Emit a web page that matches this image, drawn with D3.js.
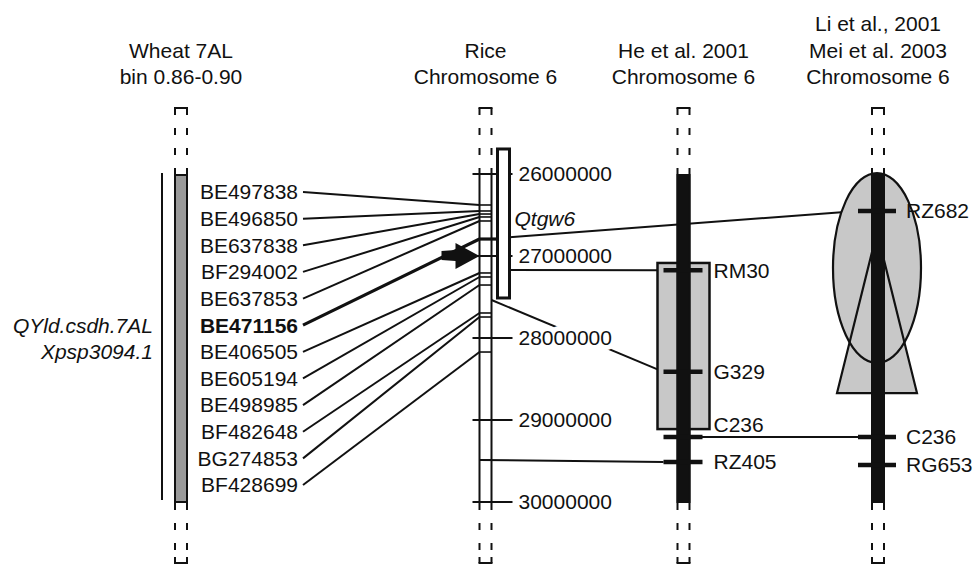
<!DOCTYPE html>
<meta charset="utf-8">
<style>
  body { margin: 0; background: #fff; }
  text { font-family: "Liberation Sans", Arial, sans-serif; fill: #111; }
</style>
<body></body>
<script src="https://cdn.jsdelivr.net/npm/d3@7"></script>
<script>
  const width = 974
  const height = 569

  // wheat 7AL bin markers (top to bottom) and their rice chromosome 6 hits (bp)
  const wheatMarkers = ["BE497838", "BE496850", "BE637838", "BF294002", "BE637853", "BE471156",
    "BE406505", "BE605194", "BE498985", "BF482648", "BG274853", "BF428699"]
  const riceHits = [26378000, 26451000, 26488000, 26524000, 26573000, 26793000,
    27207000, 27256000, 27354000, 27695000, 27744000, 28171000]
  const boldMarker = "BE471156"

  const riceTicks = [26000000, 27000000, 28000000, 29000000, 30000000]
  const qtgw6 = [25695000, 27512000]

  // He et al. 2001 map, relative position along drawn segment (%)
  const heMarkers = ["RM30", "G329", "C236", "RZ405"]
  const hePos = [29.1, 60.2, 80.1, 87.8]
  const heQtl = [26.9, 77.7]

  // Li et al. 2001 / Mei et al. 2003 map
  const liMarkers = ["RZ682", "C236", "RG653"]
  const liPos = [11.0, 80.1, 88.7]
  const liEllipse = [-0.6, 57.5]
  const liTriangle = [17.4, 66.7]

  // links between maps
  const riceToHe = [
    { from: 27170000, to: "RM30" },
    { from: 27537000, to: "G329" },
    { from: 29488000, to: "RZ405" }
  ]
  const riceToLi = [{ from: 26770000, to: "RZ682" }]
  const heToLi = [{ from: "C236", to: "C236" }]

  const titles = {
    wheat: ["Wheat 7AL", "bin 0.86-0.90"],
    rice: ["Rice", "Chromosome 6"],
    he: ["He et al. 2001", "Chromosome 6"],
    li: ["Li et al., 2001", "Mei et al. 2003", "Chromosome 6"]
  }

  const x = d3.scaleOrdinal()
    .domain(["wheat", "rice", "he", "li"])
    .range([181, 485.5, 683.5, 878])

  const bodyTop = 175, bodyBottom = 502
  const yRice = d3.scaleLinear().domain([26000000, 30000000]).range([174, 502])
  const yRel = d3.scaleLinear().domain([0, 100]).range([bodyTop, bodyBottom])
  const yWheat = d3.scalePoint().domain(wheatMarkers).range([192, 485])

  const halfW = 6

  const svg = d3.select("body").append("svg")
    .attr("width", width)
    .attr("height", height)

  // titles
  Object.keys(titles).forEach(k => {
    const lines = titles[k]
    svg.append("g").selectAll("text")
      .data(lines)
      .join("text")
      .attr("x", x(k))
      .attr("y", (d, i) => 84 - (lines.length - 1 - i) * 26.5)
      .attr("text-anchor", "middle")
      .attr("font-size", 21)
      .text(d => d)
  })

  // chromosome outlines with dashed ends
  function drawChromosome(key, fill) {
    const cx = x(key)
    const g = svg.append("g")
    ;[-halfW, halfW].forEach(dx => {
      g.append("line").attr("x1", cx + dx).attr("x2", cx + dx)
        .attr("y1", 108).attr("y2", 168)
        .attr("stroke", "#111").attr("stroke-width", 2)
        .attr("stroke-dasharray", "7,13")
      g.append("line").attr("x1", cx + dx).attr("x2", cx + dx)
        .attr("y1", 168).attr("y2", 510)
        .attr("stroke", "#111").attr("stroke-width", 2)
      g.append("line").attr("x1", cx + dx).attr("x2", cx + dx)
        .attr("y1", 523).attr("y2", 563)
        .attr("stroke", "#111").attr("stroke-width", 2)
        .attr("stroke-dasharray", "7,13")
      g.append("line").attr("x1", cx + dx).attr("x2", cx + dx)
        .attr("y1", 557).attr("y2", 563)
        .attr("stroke", "#111").attr("stroke-width", 2)
    })
    g.append("line").attr("x1", cx - halfW - 1).attr("x2", cx + halfW + 1)
      .attr("y1", 108).attr("y2", 108).attr("stroke", "#111").attr("stroke-width", 2)
    g.append("line").attr("x1", cx - halfW - 1).attr("x2", cx + halfW + 1)
      .attr("y1", 563).attr("y2", 563).attr("stroke", "#111").attr("stroke-width", 2)
    if (fill) {
      g.append("rect")
        .attr("x", cx - halfW).attr("y", bodyTop)
        .attr("width", halfW * 2).attr("height", bodyBottom - bodyTop)
        .attr("fill", fill)
        .attr("stroke", "#111").attr("stroke-width", 2)
    }
    return g
  }

  // ---- links (drawn first, below the maps) ----
  const links = svg.append("g").attr("stroke", "#111").attr("fill", "none")

  wheatMarkers.forEach((m, i) => {
    links.append("line")
      .attr("x1", 303).attr("y1", yWheat(m))
      .attr("x2", x("rice") - halfW).attr("y2", yRice(riceHits[i]))
      .attr("stroke-width", m === boldMarker ? 3.2 : 2)
  })
  // bold marker continues to the QTL box
  links.append("line")
    .attr("x1", x("rice") - halfW).attr("x2", x("rice") + 12)
    .attr("y1", yRice(riceHits[5])).attr("y2", yRice(riceHits[5]))
    .attr("stroke-width", 3.2)

  riceToHe.forEach(d => {
    const j = heMarkers.indexOf(d.to)
    const inBox = d.from < qtgw6[1] && d.from > qtgw6[0]
    const startX = inBox ? x("rice") + 24 : (d.to === "RZ405" ? x("rice") - halfW : x("rice") + halfW)
    links.append("line")
      .attr("x1", startX).attr("y1", yRice(d.from))
      .attr("x2", x("he") - 20).attr("y2", yRel(hePos[j]))
      .attr("stroke-width", 2)
  })
  riceToLi.forEach(d => {
    const j = liMarkers.indexOf(d.to)
    links.append("line")
      .attr("x1", x("rice") + 24).attr("y1", yRice(d.from))
      .attr("x2", x("li") - 20).attr("y2", yRel(liPos[j]))
      .attr("stroke-width", 2)
  })
  heToLi.forEach(d => {
    links.append("line")
      .attr("x1", x("he") + 18).attr("y1", yRel(hePos[heMarkers.indexOf(d.from)]))
      .attr("x2", x("li") - 20).attr("y2", yRel(liPos[liMarkers.indexOf(d.to)]))
      .attr("stroke-width", 2)
  })

  // ---- wheat ----
  drawChromosome("wheat", "#9a9a9a")
  svg.append("line")
    .attr("x1", 162).attr("x2", 162)
    .attr("y1", 173).attr("y2", 500)
    .attr("stroke", "#111").attr("stroke-width", 2)

  svg.append("g").selectAll("text")
    .data(wheatMarkers)
    .join("text")
    .attr("x", 298)
    .attr("y", d => yWheat(d))
    .attr("dy", "0.35em")
    .attr("text-anchor", "end")
    .attr("font-size", 21)
    .attr("font-weight", d => d === boldMarker ? "bold" : null)
    .text(d => d)

  svg.append("g").selectAll("text")
    .data(["QYld.csdh.7AL", "Xpsp3094.1"])
    .join("text")
    .attr("x", 153)
    .attr("y", (d, i) => yWheat(wheatMarkers[5 + i]))
    .attr("dy", "0.35em")
    .attr("text-anchor", "end")
    .attr("font-size", 21)
    .attr("font-style", "italic")
    .text(d => d)

  // ---- rice ----
  drawChromosome("rice", null)
  const riceX = x("rice")
  svg.append("g").selectAll("line")
    .data(riceHits.concat([riceToHe[2].from]))
    .join("line")
    .attr("x1", riceX - halfW).attr("x2", riceX + halfW)
    .attr("y1", d => yRice(d)).attr("y2", d => yRice(d))
    .attr("stroke", "#111").attr("stroke-width", 1.6)

  svg.append("g").selectAll("line")
    .data(riceTicks)
    .join("line")
    .attr("x1", riceX - 13).attr("x2", riceX + 27)
    .attr("y1", d => yRice(d)).attr("y2", d => yRice(d))
    .attr("stroke", "#111").attr("stroke-width", 2)

  svg.append("rect")
    .attr("x", riceX + 12).attr("y", yRice(qtgw6[0]))
    .attr("width", 12).attr("height", yRice(qtgw6[1]) - yRice(qtgw6[0]))
    .attr("fill", "#fff").attr("stroke", "#111").attr("stroke-width", 3)

  svg.append("g").selectAll("text")
    .data(riceTicks)
    .join("text")
    .attr("x", riceX + 33)
    .attr("y", d => yRice(d))
    .attr("dy", "0.35em")
    .attr("font-size", 21)
    .attr("stroke", "#fff").attr("stroke-width", 10)
    .attr("paint-order", "stroke")
    .text(d => d3.format("d")(d))

  svg.append("text")
    .attr("x", riceX + 29)
    .attr("y", yRice(26540000))
    .attr("dy", "0.35em")
    .attr("font-size", 21)
    .attr("font-style", "italic")
    .text("Qtgw6")

  // arrow pointing at the bold marker region
  const ay = yRice(27000000)
  const tip = riceX - halfW
  svg.append("path")
    .attr("d", `M${tip - 38},${ay - 5} L${tip - 24},${ay - 6} L${tip - 24},${ay - 13}
      L${tip},${ay} L${tip - 24},${ay + 13} L${tip - 24},${ay + 5} L${tip - 38},${ay + 4} Z`)
    .attr("fill", "#111")

  // ---- He et al. ----
  const heX = x("he")
  svg.append("rect")
    .attr("x", heX - 26).attr("y", yRel(heQtl[0]))
    .attr("width", 52).attr("height", yRel(heQtl[1]) - yRel(heQtl[0]))
    .attr("fill", "#c8c8c8").attr("stroke", "#111").attr("stroke-width", 2.5)
  drawChromosome("he", "#111")
  svg.append("g").selectAll("line")
    .data(hePos)
    .join("line")
    .attr("x1", heX - 20).attr("x2", heX + 19)
    .attr("y1", d => yRel(d)).attr("y2", d => yRel(d))
    .attr("stroke", "#111").attr("stroke-width", 4.5)
  svg.append("g").selectAll("text")
    .data(heMarkers)
    .join("text")
    .attr("x", heX + 30)
    .attr("y", (d, i) => yRel(hePos[i]) - (d === "C236" ? 12 : 0))
    .attr("dy", "0.35em")
    .attr("font-size", 21)
    .text(d => d)

  // ---- Li / Mei ----
  const liX = x("li")
  const ellipse = () => svg.append("ellipse")
    .attr("cx", liX - 1).attr("cy", (yRel(liEllipse[0]) + yRel(liEllipse[1])) / 2)
    .attr("rx", 44).attr("ry", (yRel(liEllipse[1]) - yRel(liEllipse[0])) / 2)
  const triangle = () => svg.append("path")
    .attr("d", `M${liX - 1},${yRel(liTriangle[0])} L${liX + 39},${yRel(liTriangle[1])} L${liX - 41},${yRel(liTriangle[1])} Z`)
  ellipse().attr("fill", "#c8c8c8")
  triangle().attr("fill", "#c8c8c8")
  ellipse().attr("fill", "none").attr("stroke", "#111").attr("stroke-width", 2.2)
  triangle().attr("fill", "none").attr("stroke", "#111").attr("stroke-width", 2.2)
  drawChromosome("li", "#111")
  svg.append("g").selectAll("line")
    .data(liPos)
    .join("line")
    .attr("x1", liX - 20).attr("x2", liX + 18)
    .attr("y1", d => yRel(d)).attr("y2", d => yRel(d))
    .attr("stroke", "#111").attr("stroke-width", 4.5)
  svg.append("g").selectAll("text")
    .data(liMarkers)
    .join("text")
    .attr("x", liX + 28)
    .attr("y", (d, i) => yRel(liPos[i]))
    .attr("dy", "0.35em")
    .attr("font-size", 21)
    .text(d => d)
</script>
